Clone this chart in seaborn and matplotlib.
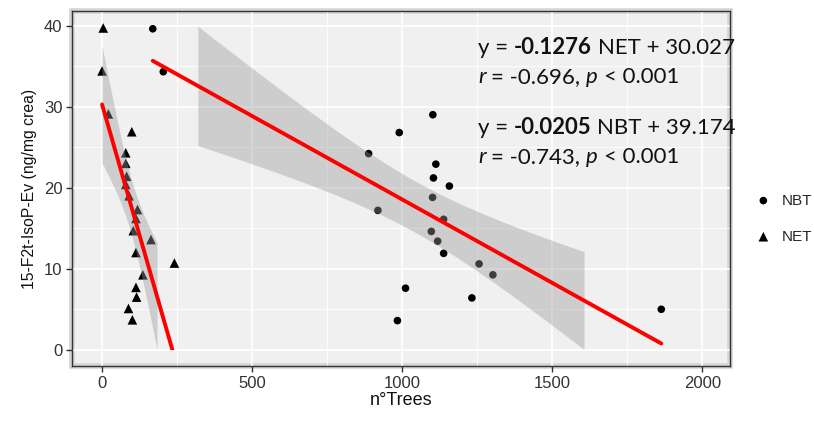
import numpy as np
import pandas as pd
import matplotlib
matplotlib.use("Agg")
import matplotlib.pyplot as plt
from matplotlib.patches import Rectangle
import seaborn as sns

# NBT group (dots)
nbt_trees = [169, 204, 1102, 990, 888, 1112, 1104, 1157, 1101, 919,
             1138, 1097, 1118, 1138, 1256, 1302, 1011, 1232, 1863, 984]
nbt_isop = [39.6, 34.3, 29.0, 26.8, 24.2, 22.9, 21.2, 20.2, 18.8, 17.2,
            16.1, 14.6, 13.4, 11.9, 10.6, 9.25, 7.6, 6.4, 5.0, 3.6]

# NET group (triangles)
net_trees = [4, 0, 21, 99, 79, 79, 82, 79, 90, 118,
             113, 104, 163, 113, 241, 136, 113, 115, 88, 101]
net_isop = [39.7, 34.4, 29.1, 26.9, 24.3, 23.0, 21.4, 20.4, 19.0, 17.3,
            16.2, 14.7, 13.6, 12.0, 10.7, 9.25, 7.7, 6.5, 5.1, 3.7]

groups = ["NBT", "NET"]
eq_lines = [("NET", "-0.1276", "30.027", "-0.696"),
            ("NBT", "-0.0205", "39.174", "-0.743")]

df = pd.concat([
    pd.DataFrame({"trees": nbt_trees, "isop": nbt_isop, "group": "NBT"}),
    pd.DataFrame({"trees": net_trees, "isop": net_isop, "group": "NET"}),
])

sns.set_theme(style="white")
plt.rcParams["font.family"] = ["Liberation Sans", "DejaVu Sans"]

fig = plt.figure(figsize=(8.14, 4.21), dpi=100)
ax = fig.add_axes([0.0885, 0.1306, 0.8087, 0.8434])
ax.set_facecolor("#F0F0F0")
ax.patch.set_edgecolor("#D4D4D4")
ax.patch.set_linewidth(4)

markers = {"NBT": "o", "NET": "^"}
msize = {"NBT": 30, "NET": 48}
for g in groups:
    sns.scatterplot(data=df[df["group"] == g], x="trees", y="isop", marker=markers[g],
                    color="black", s=msize[g], edgecolor="none", label=g, ax=ax, zorder=3)


def ribbon(x, y):
    # 95% CI of the linear fit, dropped where it leaves the 0-40 y scale
    x = np.asarray(x, float)
    y = np.asarray(y, float)
    n = len(x)
    b, a = np.polyfit(x, y, 1)
    res = y - (a + b * x)
    s = np.sqrt(np.sum(res ** 2) / (n - 2))
    sxx = np.sum((x - x.mean()) ** 2)
    grid = np.linspace(x.min(), x.max(), 80)
    fit = a + b * grid
    se = s * np.sqrt(1 / n + (grid - x.mean()) ** 2 / sxx)
    t = 2.1009  # t(0.975, 18)
    lo, hi = fit - t * se, fit + t * se
    keep = (lo >= 0) & (hi <= 40)
    return grid[keep], lo[keep], hi[keep]


clip = Rectangle((-100, 0), 2300, 40, transform=ax.transData)
for g in groups:
    sub = df[df["group"] == g]
    gx, lo, hi = ribbon(sub["trees"], sub["isop"])
    ax.fill_between(gx, lo, hi, color="#999999", alpha=0.4, linewidth=0, zorder=4)
    sns.regplot(data=sub, x="trees", y="isop", scatter=False, ci=None, color="red",
                line_kws={"linewidth": 2.8, "zorder": 5}, ax=ax)
    ax.lines[-1].set_clip_path(clip)

ax.set_xlim(-100, 2093)
ax.set_ylim(-2, 41.8)
ax.set_xticks([0, 500, 1000, 1500, 2000])
ax.set_yticks([0, 10, 20, 30, 40])
ax.set_xticks(np.arange(250, 2001, 500), minor=True)
ax.set_yticks(np.arange(5, 41, 10), minor=True)
ax.grid(which="major", color="white", linewidth=1.3, zorder=0)
ax.grid(which="minor", color="white", linewidth=0.6, zorder=0)
ax.set_axisbelow(True)
for sp in ax.spines.values():
    sp.set_color("#333333")
    sp.set_linewidth(1.0)
ax.tick_params(axis="both", which="major", length=4, width=1, color="#333333",
               labelsize=12, labelcolor="#333333", direction="out", bottom=True, left=True, pad=3)
ax.tick_params(which="minor", length=0)
ax.set_xlabel("n°Trees", fontsize=13, color="#111111", labelpad=1)
ax.set_ylabel("15-F2t-IsoP-Ev (ng/mg crea)", fontsize=11.3, color="#111111", labelpad=5)

# regression equations, written piece by piece for bold / italic parts
renderer = fig.canvas.get_renderer()
fsize = 16


def width_px(s, **kw):
    t = fig.text(0, 0, s, fontsize=fsize, family="Lato", **kw)
    w = t.get_window_extent(renderer).width
    t.remove()
    return w


space = width_px("a a") - width_px("aa")


def write(x_px, y_px, pieces):
    x = x_px
    for txt, weight, style, gap in pieces:
        if gap:
            x += space
        t = fig.text(x / 814, 1 - y_px / 421, txt, fontsize=fsize, family="Lato",
                     weight=weight, style=style, va="center", ha="left", color="#111111")
        x += t.get_window_extent(renderer).width


ytop = [48, 128]
for (name, slope, inter, rval), yp in zip(eq_lines, ytop):
    write(478, yp, [("y =", "normal", "normal", False),
                    (slope, "bold", "normal", True),
                    (name + " + " + inter, "normal", "normal", True)])
    write(478, yp + 29, [("r", "normal", "italic", False),
                         ("= " + rval + ",", "normal", "normal", True),
                         ("p", "normal", "italic", True),
                         ("< 0.001", "normal", "normal", True)])

handles, labels = ax.get_legend_handles_labels()
ax.legend(handles, labels, loc="center left", bbox_to_anchor=(1.02, 0.415), frameon=False,
          fontsize=11, handlelength=0.8, handletextpad=0.8, labelspacing=1.45, markerscale=1.0)

fig.savefig("out.png", dpi=100)
